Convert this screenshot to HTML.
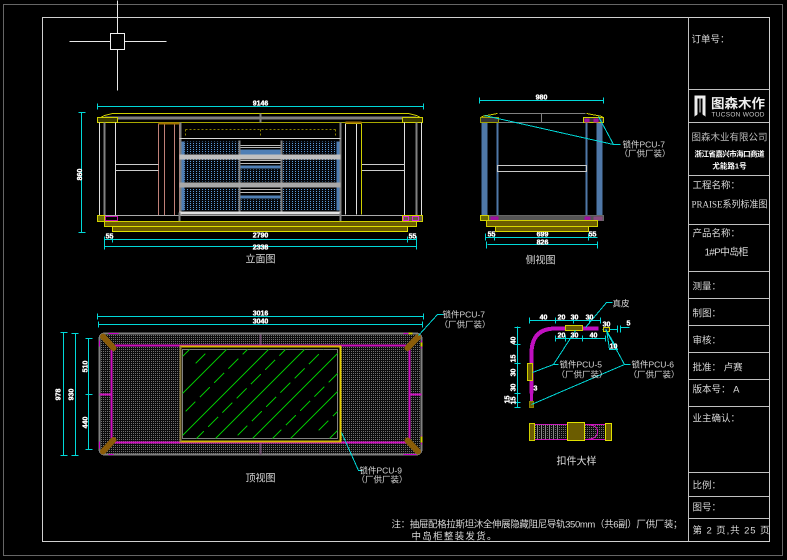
<!DOCTYPE html>
<html><head><meta charset="utf-8"><title>立面图</title>
<style>
html,body{margin:0;padding:0;background:#000;width:787px;height:560px;overflow:hidden}
svg{display:block;shape-rendering:crispEdges}
text{font-family:"Liberation Sans","Noto Sans CJK SC",sans-serif;fill:#d8d8d8}
.d{font-size:7px;font-weight:bold;fill:#fff;stroke:#fff;stroke-width:.35;text-anchor:middle}
.t{font-size:9.5px}
.s{font-size:8.5px}
.c{font-size:10px;text-anchor:middle}
.cy{stroke:#00d8d8;stroke-width:1;fill:none}
.w{stroke:#e0e0e0;stroke-width:1;fill:none}
.g{stroke:#808080;fill:none}
.y{stroke:#d0d000;fill:none}
.m{stroke:#c010b0;fill:none}
</style></head><body>
<svg xmlns="http://www.w3.org/2000/svg" width="787" height="560" viewBox="-0.5 -0.5 787 560">
<defs>
<pattern id="bd" width="3" height="2" patternUnits="userSpaceOnUse" patternTransform="translate(0.5 0.5)"><rect width="3" height="2" fill="#05080e"/><rect width="1" height="1" fill="#5a9ad8"/></pattern>
<pattern id="gd" width="2" height="2" patternUnits="userSpaceOnUse" patternTransform="translate(0.5 0.5)"><rect width="2" height="2" fill="#0c0c0c"/><rect width="1" height="1" fill="#707070"/></pattern>
<clipPath id="gl"><rect x="182" y="349" width="155" height="89"/></clipPath>
</defs>
<rect x="-1" y="-1" width="789" height="562" fill="#000"/>
<!-- outer frames -->
<rect x="3" y="4" width="779" height="551" fill="none" stroke="#666" stroke-width="1"/>
<rect x="42" y="17" width="727" height="524" fill="none" stroke="#d0d0d0" stroke-width="1"/>
<path d="M688 17V541M688 89H769M688 122H769M688 175H769M688 224H769M688 271H769M688 298H769M688 325H769M688 352H769M688 379H769M688 406H769M688 472H769M688 496H769M688 518H769" stroke="#c0c0c0" fill="none"/>
<!-- crosshair -->
<path d="M117 0V33M117 49V90M69 41H110M124 41H166" stroke="#e8e8e8" fill="none"/>
<rect x="110" y="33" width="14" height="16" fill="none" stroke="#f0f0f0" stroke-width="1"/>

<!-- title block text -->
<text class="t" x="691" y="42">订单号：</text>
<path d="M694 95H705V116L702 114V98H700V112H699V98H697V114L694 116Z" fill="#eee"/>
<text x="710.5" y="107.5" font-size="13" font-weight="bold" style="fill:#eee" textLength="54" lengthAdjust="spacingAndGlyphs">图森木作</text>
<text x="711" y="116" font-size="6.5" textLength="53" lengthAdjust="spacing" style="fill:#ccc">TUCSON WOOD</text>
<text x="691" y="140" font-size="9.5" textLength="76" lengthAdjust="spacing" style="fill:#bbb">图森木业有限公司</text>
<text x="694" y="156" font-size="7.5" font-weight="bold" textLength="70" lengthAdjust="spacing" style="fill:#fff">浙江省嘉兴市海口商道</text>
<text x="729" y="168" font-size="7.5" font-weight="bold" text-anchor="middle" style="fill:#fff">尤能路1号</text>
<text class="t" x="692" y="188">工程名称：</text>
<text x="691" y="207" font-size="9.5" textLength="76" lengthAdjust="spacingAndGlyphs" style="font-family:'Liberation Serif','Noto Sans CJK SC',serif">PRAISE系列标准图</text>
<text class="t" x="692" y="236">产品名称：</text>
<text x="704" y="255" font-size="10" textLength="44" lengthAdjust="spacing">1#P中岛柜</text>
<text class="t" x="692" y="289">测量：</text>
<text class="t" x="692" y="316">制图：</text>
<text class="t" x="692" y="343">审核：</text>
<text class="t" x="692" y="370">批准： 卢赛</text>
<text class="t" x="692" y="392">版本号：  A</text>
<text class="t" x="692" y="421">业主确认：</text>
<text class="t" x="692" y="488">比例：</text>
<text class="t" x="692" y="510">图号：</text>
<text class="t" x="692" y="533" textLength="77" lengthAdjust="spacing">第 2 页,共 25 页</text>

<!-- FRONT ELEVATION -->
<path class="cy" d="M97 106H423M97 103V109M423 103V109M78 112H85M78 232H85M81 112V232M104 239H416M104 246H416M104 236V249M112 236V242M407 236V242M416 236V249"/>
<text class="d" x="260" y="105">9146</text><text class="d" x="81.5" y="174" transform="rotate(-90 81.5 174)">860</text>
<text class="d" x="109" y="238">55</text><text class="d" x="260" y="237">2790</text><text class="d" x="260" y="249">2338</text><text class="d" x="412" y="238">55</text>
<path class="y" d="M98 118L104 115L112 113H408L416 115L422 118" stroke-width="1"/>
<rect x="104" y="116" width="312" height="3" fill="#808080"/>
<path d="M98 122H422" stroke="#a8a800" stroke-width="1" fill="none"/>
<path class="g" d="M260 113V122" stroke-width="2"/>
<rect x="97" y="117" width="20" height="5" fill="#3a3a00" stroke="#d0d000"/>
<rect x="402" y="117" width="20" height="5" fill="#3a3a00" stroke="#d0d000"/>
<path class="w" d="M99 122V215M115 122V215M404 122V215M421 122V215"/>
<path class="g" d="M104 122V215M416 122V215" stroke-width="2"/>
<path d="M158 123V215M164 123V215M174 123V215M179 123V215" stroke="#c08078" stroke-width="1" fill="none"/>
<path d="M158 123H179" stroke="#a07000" stroke-width="2"/>
<path d="M115 164H158M115 170H158M361 164H404M361 170H404" stroke="#ccc" fill="none"/>
<path class="w" d="M345 123V214M356 123V214"/>
<path class="y" d="M361 123V214M345 123H361" stroke-width="1"/>
<path d="M345 122H361" stroke="#a07000" stroke-width="2"/>
<!-- centre cabinet -->
<path d="M185 129H335" stroke="#8a8000" stroke-width="1" stroke-dasharray="2 2" fill="none"/>
<path d="M185 129V136M335 129V136M260 129V136" stroke="#8a8000" stroke-dasharray="2 2" fill="none"/>
<rect x="180" y="141" width="59" height="12" fill="url(#bd)"/>
<rect x="281" y="141" width="56" height="12" fill="url(#bd)"/>
<rect x="180" y="159" width="59" height="22" fill="url(#bd)"/>
<rect x="281" y="159" width="56" height="22" fill="url(#bd)"/>
<rect x="180" y="188" width="59" height="22" fill="url(#bd)"/>
<rect x="281" y="188" width="56" height="22" fill="url(#bd)"/>
<rect x="180" y="141" width="4" height="69" fill="#4f7fb5"/>
<rect x="336" y="141" width="3" height="69" fill="#4f7fb5"/>
<!-- middle drawers -->
<path d="M240 145H281M240 147H281M240 160H281M240 163H281M240 189H281M240 192H281" stroke="#bbb" fill="none"/>
<rect x="240" y="149" width="41" height="5" fill="#4f7fb5"/>
<rect x="240" y="165" width="41" height="3" fill="#4f7fb5"/>
<rect x="240" y="169" width="41" height="12" fill="url(#bd)"/>
<rect x="240" y="195" width="41" height="3" fill="#4f7fb5"/>
<rect x="240" y="199" width="41" height="11" fill="url(#bd)"/>
<path class="g" d="M239 140V212M281 140V212M180 122V215M340 122V215" stroke-width="2"/>
<path d="M179 138H340" stroke="#d8d8d8" stroke-width="1"/>
<rect x="179" y="154" width="161" height="5" fill="#c0c0c0"/>
<rect x="179" y="182" width="161" height="5" fill="#a8a8a8"/>
<rect x="179" y="211" width="161" height="3" fill="#e0e0e0"/>
<path d="M98 215H422" stroke="#aaa" stroke-width="1"/>
<path class="g" d="M179 212V221M340 212V221" stroke-width="2"/>
<rect x="97" y="215" width="7" height="6" fill="#6a6a00" stroke="#d0d000"/>
<rect x="105" y="216" width="12" height="4" fill="none" stroke="#c010b0"/>
<rect x="402" y="215" width="20" height="6" fill="#6a5a40" stroke="#d0d000"/>
<rect x="403" y="216" width="5" height="4" fill="none" stroke="#e020e0"/>
<rect x="412" y="216" width="6" height="4" fill="none" stroke="#e020e0"/>
<rect x="104" y="221" width="312" height="5" fill="#6b5c00" stroke="#d0d000"/>
<rect x="112" y="226" width="295" height="5" fill="#6b5c00" stroke="#e0e000" stroke-width="1"/>
<text class="c" x="260" y="262">立面图</text>

<!-- SIDE VIEW -->
<path class="cy" d="M479 100H603M479 97V103M603 97V103M485 237H597M485 233V240M487 244H597M486 241V248M597 241V248M494 233V240M588 233V240"/>
<text class="d" x="541" y="99">980</text><text class="d" x="491" y="236">55</text><text class="d" x="542" y="236">699</text><text class="d" x="592" y="236">55</text><text class="d" x="542" y="244">826</text>
<path class="g" d="M499 113H585M480 122H603M541 113V122" stroke-width="1"/>
<path class="y" d="M481 116L497 113M602 116L586 113"/>
<rect x="481" y="122" width="6" height="93" fill="#4f78a8"/>
<rect x="596" y="122" width="6" height="93" fill="#4f78a8"/>
<path d="M497 122V215M586 122V215" stroke="#4f78a8" stroke-width="2"/>
<rect x="497" y="165" width="89" height="6" fill="none" stroke="#c8c8c8" stroke-width="1"/>
<rect x="480" y="117" width="18" height="5" fill="#333" stroke="#a0a000"/>
<rect x="583" y="117" width="20" height="5" fill="#333" stroke="#d0d000"/>
<rect x="584" y="118" width="5" height="4" fill="#a010a0"/><rect x="593" y="118" width="5" height="4" fill="#a010a0"/>
<rect x="480" y="215" width="123" height="5" fill="#555" stroke="#666"/>
<rect x="480" y="215" width="8" height="5" fill="#6a6a00" stroke="#d0d000"/>
<rect x="490" y="216" width="8" height="4" fill="#a010a0"/>
<rect x="584" y="216" width="6" height="4" fill="#a010a0"/><rect x="593" y="216" width="9" height="4" fill="#8a4a80"/>
<rect x="486" y="220" width="111" height="6" fill="#6b5c00" stroke="#d0d000"/>
<rect x="495" y="226" width="93" height="5" fill="#6b5c00" stroke="#d8d800"/>
<path class="cy" d="M484 115L613 144H620M598 116L613 144"/>
<text class="s" x="622" y="147">锁件PCU-7</text><text class="s" x="619" y="156">（厂供厂装）</text>
<text class="c" x="540" y="263">侧视图</text>

<!-- TOP VIEW -->
<path class="cy" d="M97 316H423M97 313V319M423 313V319M98 324H422M98 321V327M422 321V327M63 332V455M60 332H67M60 455H67M75 333V455M71 333H78M71 455H78M88 338V449M85 338H92M85 394H92M85 449H92"/>
<text class="d" x="260" y="315">3016</text><text class="d" x="260" y="323">3040</text>
<text class="d" x="60" y="394" transform="rotate(-90 60 394)">978</text><text class="d" x="73" y="394" transform="rotate(-90 73 394)">930</text>
<text class="d" x="87" y="366" transform="rotate(-90 87 366)">510</text><text class="d" x="87" y="422" transform="rotate(-90 87 422)">440</text>
<rect x="99" y="333" width="322" height="121" rx="5" fill="url(#gd)" stroke="#808080" stroke-width="2"/>
<path d="M260 334V345M260 442V454" stroke="#6a4a6a" stroke-width="2"/>
<path d="M111 345H409V442H111ZM99 394H111M409 394H421" stroke="#d010c0" stroke-width="2" fill="none"/>
<rect x="180" y="346" width="160" height="95" fill="#000" stroke="#d0b800" stroke-width="2"/>
<path d="M180 346V441" stroke="#8a7a40" stroke-width="2"/><path d="M340 346V441" stroke="#e8d000" stroke-width="2"/>
<rect x="182" y="349" width="155" height="89" fill="none" stroke="#808080" stroke-width="1"/>
<g clip-path="url(#gl)" stroke="#00c000" stroke-width="1" fill="none">
<path d="M182 356L189 349M182 393L226 349M182 435L268 349M215 438L304 349M252 438L341 349M290 438L339 389M329 438L339 428"/>
<g stroke-dasharray="14.1 6.1">
<path d="M195 363L340 218M185 411L340 256M179 455L340 294M237 435L340 332M271 439L340 370M318 430L340 408"/>
</g>
</g>
<g fill="none" style="stroke:#8a5c08;stroke-width:6;stroke-linecap:round;shape-rendering:auto">
<path d="M102.5 336L113 347.5M113 439.5L102.5 451M417.5 336.5L407 347.5M407 440L417.5 451"/>
</g>
<path d="M108 333H118M99 340V346M99 441V448M108 454H113M403 333H412M421 340V348M421 435V444M403 454H416" stroke="#d000d0" stroke-width="1" fill="none"/>
<path d="M408 333H412M421 342V346M421 436V442" stroke="#d0d000" stroke-width="2" fill="none"/>
<path class="cy" d="M418 335L437 314H443M341 432L358 470H362"/>
<text class="s" x="442" y="317">锁件PCU-7</text><text class="s" x="439" y="327">（厂供厂装）</text>
<text class="s" x="359" y="473">锁件PCU-9</text><text class="s" x="356" y="482">（厂供厂装）</text>
<text class="c" x="260" y="481">顶视图</text>

<!-- DETAIL -->
<path class="cy" d="M529 320H600M529 317V323M555 317V323M573 317V323M589 317V323M600 317V323M555 338H605M555 335V341M565 335V341M582 335V341M605 335V341M517 326V407M514 327H520M514 344H520M514 363H520M514 393H520M514 402H520M514 407H520M602 329H617M617 325V332M620 327H629M620 325V332"/>
<path d="M531 393V353Q531 328 555 328H598" fill="none" stroke="#c010c0" stroke-width="4"/>
<path d="M531 393V402" stroke="#c010c0" stroke-width="3"/>
<rect x="565" y="325" width="17" height="5" fill="#6b5c00" stroke="#d0d000"/>
<rect x="603" y="327" width="6" height="4" fill="#222" stroke="#d0d000"/>
<rect x="527" y="363" width="5" height="17" fill="#6b5c00" stroke="#d0d000"/>
<rect x="529" y="401" width="4" height="6" fill="#6b5c00" stroke="#8a8000"/>
<path class="cy" d="M585 327L606 302H612M606 329L609 349H617L606 330M532 372L553 364H558M575 330L553 364M605 329L624 364H630M531 404L624 364"/>
<text class="s" x="612" y="306" font-size="9">真皮</text>
<text class="d" x="613" y="348">10</text>
<text class="d" x="543" y="319">40</text><text class="d" x="561" y="319">20</text><text class="d" x="574" y="319">30</text><text class="d" x="589" y="319">30</text>
<text class="d" x="561" y="337">20</text><text class="d" x="574" y="337">30</text><text class="d" x="593" y="337">40</text><text class="d" x="606" y="326">30</text><text class="d" x="628" y="325">5</text>
<text class="d" x="515" y="340" transform="rotate(-90 515 340)">40</text><text class="d" x="515" y="358" transform="rotate(-90 515 358)">15</text>
<text class="d" x="515" y="372" transform="rotate(-90 515 372)">30</text><text class="d" x="515" y="387" transform="rotate(-90 515 387)">30</text>
<text class="d" x="509" y="399" transform="rotate(-90 509 399)">15</text><text class="d" x="515" y="400" transform="rotate(-90 515 400)">15</text>
<text class="d" x="535" y="390">3</text>
<text class="s" x="559" y="367">锁件PCU-5</text><text class="s" x="556" y="377">（厂供厂装）</text>
<text class="s" x="631" y="367">锁件PCU-6</text><text class="s" x="628" y="377">（厂供厂装）</text>
<rect x="533" y="424" width="72" height="15" fill="url(#gd)" stroke="#d010c0" stroke-width="1"/>
<path d="M567 424H584Q597 424 597 431Q597 439 584 439" fill="none" stroke="#d010c0"/>
<path d="M537 424V439M541 424V439M545 424V439M549 424V439M553 424V439M557 424V439" stroke="#888" stroke-width="1"/>
<rect x="529" y="423" width="5" height="17" fill="#6b5c00" stroke="#d0d000"/>
<rect x="567" y="422" width="17" height="18" fill="#6b5c00" stroke="#e0e000" stroke-width="1"/>
<rect x="605" y="423" width="6" height="17" fill="#6b5c00" stroke="#e0e000"/>
<text class="c" x="576" y="464">扣件大样</text>

<!-- note -->
<text x="391" y="527" font-size="9.5" textLength="291" lengthAdjust="spacing">注：抽屉配格拉斯坦沐全伸展隐藏阻尼导轨350mm（共6副）厂供厂装；</text>
<text x="411" y="539" font-size="9.5" textLength="85" lengthAdjust="spacing">中岛柜整装发货。</text>
</svg>
</body></html>
